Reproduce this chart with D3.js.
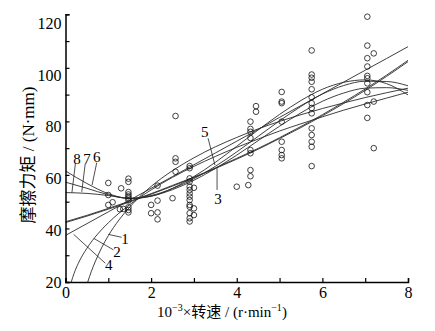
<!DOCTYPE html>
<html><head><meta charset="utf-8">
<script src="https://cdn.jsdelivr.net/npm/d3@7/dist/d3.min.js"></script>
<style>body{margin:0;background:#fff}svg{display:block}</style>
</head><body>
<svg id="chart" width="435" height="331"></svg>
<script>
// ---------------- data ----------------
const xTickValues = [0,1,2,3,4,5,6,7,8];
const xTickLabels = ["0","","2","","4","","6","","8"];
const yTickValues = [20,30,40,50,60,70,80,90,100,110,120];
const yTickLabels = ["20","","40","","60","","80","","100","","120"];

// measured points
const pointX = [1.0,1.0,1.1,1.0,1.3,1.27,1.35,
  1.47,1.47,1.47,1.47,1.47,1.47,1.47,1.47,1.47,1.47,
  2.0,2.0, 2.15,2.15,2.15,2.15, 2.5, 2.57,2.57,2.57,2.57,
  2.9,2.9,2.9,2.9,2.9,2.9,2.9,2.9,2.9,2.9,2.9,2.9,2.9,2.9,
  3.0,3.0,3.0, 4.0, 4.27,
  4.32,4.32,4.32,4.32,4.32,4.32,4.32,4.32, 4.45,4.45,
  5.05,5.05,5.05,5.05,5.05,5.05,5.05,5.05,
  5.75,5.75,5.75,5.75,5.75,5.75,5.75,5.75,5.75,5.75,5.75,5.75,5.75,5.75,
  7.05,7.05,7.05,7.05,7.05,7.05,7.05,7.05,7.05,7.05,
  7.2,7.2,7.2];
const pointY = [57.0,52.5,49.8,48.8,55.0,47.2,47.3,
  58.6,57.4,53.6,52.7,52.0,51.3,50.5,47.9,46.9,46.0,
  48.8,45.7, 56.0,50.4,46.0,43.4, 51.3, 82.0,66.2,64.9,61.2,
  63.3,62.5,58.7,57.5,55.6,54.4,53.1,51.9,50.6,48.8,48.1,45.7,43.8,42.6,
  55.2,47.5,45.0, 55.6, 56.2,
  79.9,77.2,76.1,73.8,69.3,68.1,61.8,59.5, 85.7,83.6,
  91.0,87.4,86.8,79.9,72.4,69.3,67.4,66.2,
  106.5,97.5,96.3,94.8,92.0,89.0,86.8,85.0,83.0,77.4,74.9,72.4,70.5,63.3,
  119.1,108.3,103.6,100.5,97.0,96.1,94.2,90.9,86.1,81.3,
  105.4,87.4,70.0];

// fitted curves
const gridX = [0,0.5,1,1.5,2,2.5,3,3.5,4,4.5,5,5.5,6,6.5,7,7.5,8];
const curve6 = [61.5,56.8,53.0,51.2,52.0,55.0,59.4,64.7,70.7,76.8,82.6,87.8,92.0,94.6,95.5,94.1,89.9];
const curve7 = [57.3,55.0,52.6,51.3,52.3,54.9,58.6,63.2,68.6,74.4,80.2,85.6,90.2,93.4,95.0,94.9,93.3];
const curve8 = [53.4,53.1,52.3,51.2,52.1,54.5,58.0,62.4,67.4,72.8,78.2,83.2,87.5,90.6,92.4,92.6,91.6];
const curve5 = [42.5,44.9,47.5,50.2,53.0,56.1,59.2,62.6,66.2,69.9,73.9,78.1,82.5,87.2,92.1,97.3,102.8];
const curve3 = [42.2,44.6,47.2,49.9,52.8,55.8,59.0,62.4,65.9,69.6,73.6,77.7,82.1,86.7,91.6,96.8,102.3];
const curve4 = [37.4,41.8,46.2,50.6,55.0,59.4,63.8,68.2,72.6,77.0,81.5,85.9,90.3,94.7,99.1,103.5,107.9];
const curve2X = [0.134,0.2,0.3,0.5,0.75,1,1.5,2,2.5,3,3.5,4,4.5,5,5.5,6,6.5,7,7.5,8];
const curve2 = [20,23.2,27.0,32.6,37.9,42.1,48.9,54.4,59.1,63.2,66.9,70.3,73.4,76.4,79.1,81.7,84.2,86.5,88.7,90.9];
const curve1X = [0.52,0.6,0.7,0.85,1,1.25,1.5,2,2.5,3,3.5,4,4.5,5,5.5,6,6.5,7,7.5,8];
const curve1 = [20,23.8,27.8,33.0,37.3,43.2,48.0,55.7,61.6,66.4,70.5,74.0,77.2,80.0,82.5,84.8,86.9,88.9,90.7,92.4];

// curve labels and leaders (data units)
const labelText = ["8","7","6","1","2","4","5","3"];
const labelX = [0.27,0.50,0.73,1.39,1.20,1.01,3.25,3.56];
const labelY = [65.8,65.8,66.6,36.0,31.3,26.4,76.1,50.9];
const leaderX1 = [0.23,0.46,0.73,1.31,1.12,0.93,3.33,3.54];
const leaderY1 = [64.1,64.1,64.6,36.7,32.0,27.0,73.7,62.5];
const leaderX2 = [0.15,0.38,0.62,1.00,0.66,0.19,3.49,3.54];
const leaderY2 = [53.4,53.7,56.2,37.8,36.3,37.8,63.7,54.4];

// ---------------- drawing ----------------
const svg = d3.select("#chart");
svg.append("rect").attr("width",435).attr("height",331).attr("fill","#fff");
const x = d3.scaleLinear().domain([0,8]).range([65.5,408]);
const y = d3.scaleLinear().domain([20,120]).range([282,14.3]);
const serif = "'Liberation Serif','Times New Roman',serif";

svg.append("clipPath").attr("id","clip").append("rect")
  .attr("x",x(0)).attr("y",y(120)-2).attr("width",x(8)-x(0)+2).attr("height",y(20)-y(120)+2);

const line = d3.line().x(d=>x(d[0])).y(d=>y(d[1])).curve(d3.curveMonotoneX);
const curves = [
  [gridX,curve6],[gridX,curve7],[gridX,curve8],[gridX,curve5],[gridX,curve3],
  [gridX,curve4],[curve2X,curve2],[curve1X,curve1]
];
const cg = svg.append("g").attr("clip-path","url(#clip)");
curves.forEach(([xs,ys])=>{
  cg.append("path").attr("d",line(xs.map((v,i)=>[v,ys[i]])))
    .attr("fill","none").attr("stroke","#2a2a2a").attr("stroke-width",0.9);
});

// points
svg.append("g").selectAll("circle").data(pointX.map((v,i)=>[v,pointY[i]])).join("circle")
  .attr("cx",d=>x(d[0])).attr("cy",d=>y(d[1])).attr("r",2.8)
  .attr("fill","none").attr("stroke","#111").attr("stroke-width",0.8);

// leaders and labels
const lg = svg.append("g");
labelText.forEach((t,i)=>{
  lg.append("line").attr("x1",x(leaderX1[i])).attr("y1",y(leaderY1[i]))
    .attr("x2",x(leaderX2[i])).attr("y2",y(leaderY2[i]))
    .attr("stroke","#222").attr("stroke-width",0.8);
  lg.append("text").attr("x",x(labelX[i])).attr("y",y(labelY[i]))
    .attr("text-anchor","middle").attr("dominant-baseline","central")
    .attr("font-family",serif).attr("font-size",15).attr("fill","#000").text(t);
});

// axes
const xAxis = d3.axisBottom(x).tickValues(xTickValues).tickSize(-4).tickPadding(5)
  .tickFormat((d,i)=>xTickLabels[i]);
const gx = svg.append("g").attr("transform",`translate(0,${y(20)})`).call(xAxis);
gx.select(".domain").attr("stroke","#000").attr("stroke-width",1.5);
gx.selectAll(".tick line").attr("stroke","#000").attr("stroke-width",1.2);
gx.selectAll("text").attr("font-family",serif).attr("font-size",16).attr("fill","#000");

const yAxis = d3.axisLeft(y).tickValues(yTickValues).tickSize(-4).tickPadding(4)
  .tickFormat((d,i)=>yTickLabels[i]);
const gy = svg.append("g").attr("transform",`translate(${x(0)},0)`).call(yAxis);
gy.select(".domain").attr("stroke","#000").attr("stroke-width",1.5);
gy.selectAll(".tick line").attr("stroke","#000").attr("stroke-width",1.2);
gy.selectAll("text").attr("font-family",serif).attr("font-size",16).attr("fill","#000")
  .attr("dy",d=>(0.32+ (d-20)/100*0.55)+"em");

// axis titles
const xt = svg.append("text").attr("x",222).attr("y",317).attr("text-anchor","middle")
  .attr("font-family",serif).attr("font-size",15).attr("fill","#000");
xt.append("tspan").text("10");
xt.append("tspan").attr("dy",-6).attr("font-size",10).text("−3");
xt.append("tspan").attr("dy",6).text("×");
xt.append("tspan").attr("font-family","'Noto Sans CJK SC',sans-serif").attr("font-size",15).text("转速");
xt.append("tspan").text(" / (r·min");
xt.append("tspan").attr("dy",-6).attr("font-size",10).text("−1");
xt.append("tspan").attr("dy",6).text(")");

const yt = svg.append("text").attr("transform","translate(34,155) rotate(-90)")
  .attr("text-anchor","middle").attr("font-family",serif).attr("font-size",17).attr("fill","#000");
yt.append("tspan").attr("font-family","'Noto Sans CJK SC',sans-serif").text("摩擦力矩");
yt.append("tspan").text(" / (N·mm)");
</script>
</body></html>
